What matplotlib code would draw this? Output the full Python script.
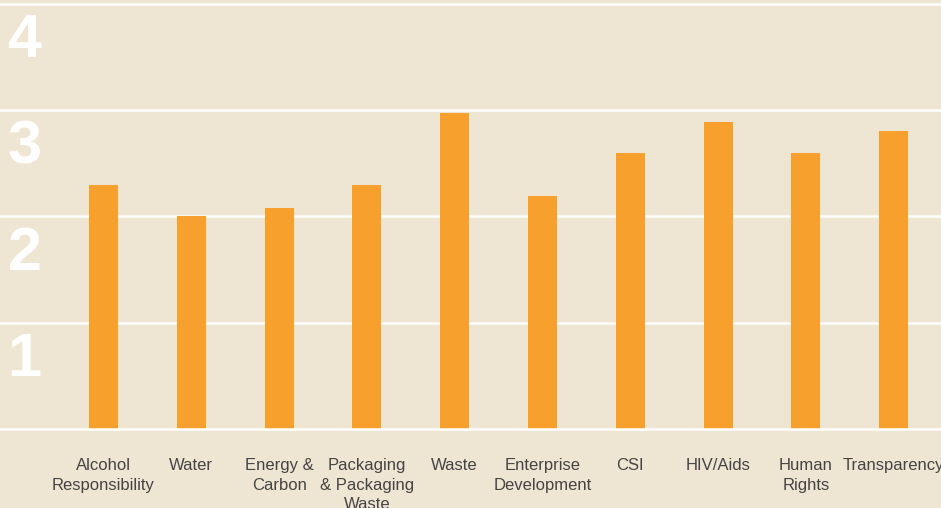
import matplotlib
matplotlib.use("Agg")
import matplotlib.pyplot as plt
import numpy as np

categories = ["Alcohol\nResponsibility", "Water", "Energy &\nCarbon",
              "Packaging\n& Packaging\nWaste", "Waste", "Enterprise\nDevelopment",
              "CSI", "HIV/Aids", "Human\nRights", "Transparency"]
scores = [2.30, 2.00, 2.08, 2.30, 2.97, 2.19, 2.60, 2.89, 2.60, 2.80]
level_labels = ["1", "2", "3", "4"]
levels = [1, 2, 3, 4]

BG = "#EFE5D3"
BAR = "#F7A02D"

W, H = 941, 508
fig = plt.figure(figsize=(W / 100, H / 100), dpi=100)
fig.patch.set_facecolor(BG)

base_px = 429
unit_px = 106.3
ax = fig.add_axes([0, (H - base_px) / H, 1, base_px / H])
ax.set_facecolor(BG)

x = np.arange(len(categories))
ax.set_xlim(-1.179, 9.54)
ax.set_ylim(0, base_px / unit_px)

for lv in levels:
    ax.axhline(lv, color="white", lw=1.8, zorder=1)

ax.bar(x, scores, width=0.33, color=BAR, zorder=2)
ax.axhline(0, color="white", lw=1.8, zorder=3, clip_on=False)

for lv, lab in zip(levels, level_labels):
    ax.text(0.008, lv - 0.09, lab, transform=ax.get_yaxis_transform(),
            ha="left", va="top", color="white", fontsize=44,
            fontweight="bold", family="Liberation Sans", zorder=4)

ax.set_xticks(x)
ax.set_xticklabels(categories, fontsize=12, color="#444444",
                   family="Liberation Sans", linespacing=1.38)
ax.tick_params(axis="x", length=0, pad=21)
ax.set_yticks([])
for s in ax.spines.values():
    s.set_visible(False)

fig.savefig("out.png", dpi=100, facecolor=BG)
